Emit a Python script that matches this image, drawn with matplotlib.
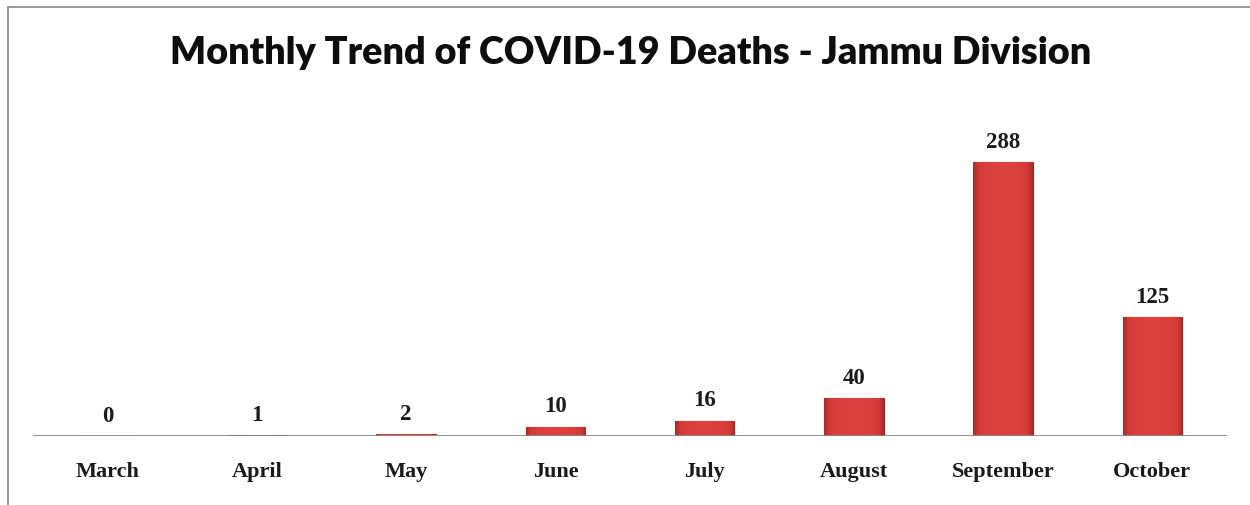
import matplotlib
matplotlib.use("Agg")
import matplotlib.pyplot as plt
import numpy as np
from matplotlib.colors import LinearSegmentedColormap
from matplotlib.patches import Rectangle

months = ["March", "April", "May", "June", "July", "August", "September", "October"]
deaths = [0, 1, 2, 10, 16, 40, 288, 125]
title = "Monthly Trend of COVID-19 Deaths - Jammu Division"

W, H = 1250, 506
fig = plt.figure(figsize=(W / 100, H / 100), dpi=100)
fig.patch.set_facecolor("white")

# chart border (partially cropped in the reference)
fig.patches.append(Rectangle((8 / W, -0.1), 1.2, 1 - 8 / H + 0.1, transform=fig.transFigure,
                             fill=False, edgecolor="#8f8f8f", linewidth=1.3))

ax = fig.add_axes([33 / W, 69 / H, 1194 / W, 285 / H])
ax.set_xlim(-0.5, len(months) - 0.5)
ax.set_ylim(0, 300)

x = np.arange(len(months))
bars = ax.bar(x, deaths, width=0.40, color="#d63d39", edgecolor="#9a2422", linewidth=0.8, zorder=2)

cmap = LinearSegmentedColormap.from_list(
    "bev", [(0.0, "#a82a28"), (0.08, "#cf3a36"), (0.2, "#d9403c"), (0.5, "#dc4340"),
            (0.8, "#d9403c"), (0.92, "#cf3a36"), (1.0, "#a82a28")])
grad = np.linspace(0, 1, 128).reshape(1, -1)
for b, v in zip(bars, deaths):
    if v <= 0:
        continue
    x0, y0 = b.get_x(), b.get_y()
    w, h = b.get_width(), b.get_height()
    im = ax.imshow(grad, cmap=cmap, aspect="auto", extent=(x0, x0 + w, y0, y0 + h),
                   zorder=2.5, interpolation="bicubic")
    im.set_clip_path(b)

for xi, v in zip(x, deaths):
    ax.annotate(str(v), (xi, v), xytext=(0, 15), textcoords="offset points",
                ha="center", va="center", fontsize=16.5, fontweight="bold",
                family="Liberation Serif", color="#1a1a1a")

ax.axhline(0, color="#8a8a8a", linewidth=1.3, zorder=3)
ax.set_xticks(x)
ax.set_xticklabels(months, fontsize=16, fontweight="bold", family="Liberation Serif", color="#1a1a1a")
ax.tick_params(axis="x", length=0, pad=18)
ax.set_yticks([])
for s in ax.spines.values():
    s.set_visible(False)

fig.text(631 / W, 1 - 53 / H, title, ha="center", va="center", fontsize=27.2,
         fontweight="heavy", family="Lato", color="#0d0d0d")

fig.savefig("out.png", dpi=100)
